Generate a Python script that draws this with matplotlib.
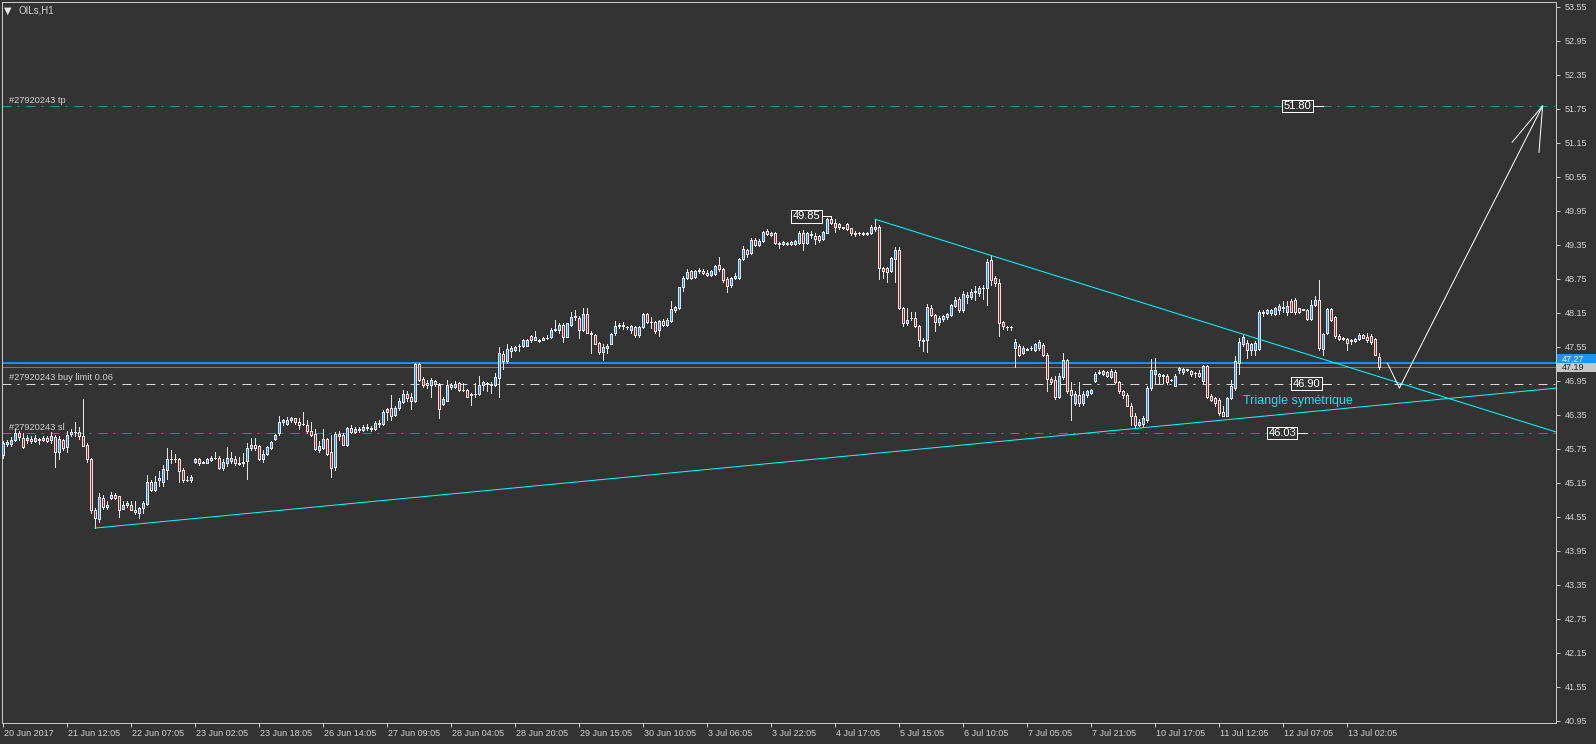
import numpy as np
import matplotlib
matplotlib.use("Agg")
import matplotlib.pyplot as plt
import matplotlib.transforms as mtransforms
from matplotlib.patches import Rectangle

plt.rcParams['font.family'] = ['Liberation Sans', 'DejaVu Sans']

# OILs H1 candles, one value per bar (bar 0 = 20 Jun 2017)
opens = [
    45.64, 45.84, 45.84, 45.90, 46.02, 45.94, 45.90, 45.92, 45.89, 45.91,
    45.91, 45.94, 45.90, 45.96, 45.69, 45.90, 45.78, 46.01, 46.04, 46.05,
    45.97, 45.82, 45.57, 44.67, 44.51, 44.88, 44.72, 44.88, 44.94, 44.91,
    44.69, 44.76, 44.76, 44.67, 44.62, 44.70, 44.78, 45.17, 45.02, 45.20,
    45.17, 45.37, 45.56, 45.57, 45.56, 45.38, 45.20, 45.19, 45.51, 45.57,
    45.50, 45.50, 45.55, 45.58, 45.59, 45.41, 45.49, 45.54, 45.56, 45.50,
    45.50, 45.53, 45.76, 45.82, 45.80, 45.56, 45.66, 45.76, 45.93, 46.02,
    46.22, 46.19, 46.26, 46.29, 46.22, 46.19, 46.17, 46.07, 46.01, 45.72,
    45.76, 45.92, 45.70, 45.43, 46.01, 46.00, 45.82, 46.12, 46.05, 46.10,
    46.08, 46.14, 46.12, 46.10, 46.20, 46.18, 46.40, 46.47, 46.35, 46.46,
    46.57, 46.72, 46.67, 46.60, 47.25, 46.98, 46.91, 46.88, 46.94, 46.88,
    46.54, 46.60, 46.88, 46.84, 46.91, 46.78, 46.78, 46.70, 46.71, 46.72,
    46.88, 46.91, 46.90, 46.88, 47.00, 47.43, 47.29, 47.48, 47.49, 47.56,
    47.57, 47.57, 47.74, 47.67, 47.67, 47.67, 47.70, 47.72, 47.84, 47.85,
    47.94, 47.73, 47.93, 48.07, 48.06, 47.84, 48.13, 47.80, 47.76, 47.62,
    47.45, 47.53, 47.60, 47.79, 47.92, 47.91, 47.90, 47.85, 47.90, 47.75,
    47.90, 48.13, 47.98, 47.98, 47.84, 48.01, 47.94, 48.00, 48.20, 48.23,
    48.60, 48.76, 48.88, 48.78, 48.88, 48.89, 48.85, 48.81, 48.84, 49.00,
    48.92, 48.75, 48.64, 48.77, 48.76, 49.10, 49.26, 49.20, 49.43, 49.35,
    49.41, 49.59, 49.52, 49.56, 49.38, 49.37, 49.38, 49.37, 49.37, 49.38,
    49.56, 49.38, 49.54, 49.51, 49.50, 49.45, 49.56, 49.80, 49.73, 49.72,
    49.66, 49.72, 49.64, 49.56, 49.55, 49.55, 49.54, 49.56, 49.63, 49.67,
    48.94, 48.94, 48.88, 49.09, 49.25, 48.23, 47.96, 48.05, 48.06, 47.92,
    47.67, 47.66, 48.23, 48.11, 47.98, 48.04, 48.07, 48.11, 48.27, 48.39,
    48.19, 48.43, 48.43, 48.51, 48.49, 48.58, 48.58, 49.08, 48.76, 48.67,
    47.98, 47.90, 47.90, 47.53, 47.56, 47.44, 47.51, 47.52, 47.50, 47.52,
    47.58, 47.41, 46.98, 46.97, 46.67, 47.02, 47.32, 46.78, 46.56, 46.70,
    46.56, 46.70, 46.73, 46.94, 47.08, 47.07, 47.11, 47.02, 47.10, 46.92,
    46.76, 46.70, 46.51, 46.33, 46.17, 46.18, 46.26, 46.82, 47.06, 47.06,
    47.05, 47.04, 46.97, 46.86, 47.14, 47.10, 47.14, 47.12, 47.08, 47.09,
    46.94, 47.21, 46.68, 46.64, 46.61, 46.39, 46.33, 46.64, 46.82, 47.27,
    47.59, 47.62, 47.50, 47.50, 47.51, 48.17, 48.14, 48.14, 48.13, 48.20,
    48.25, 48.17, 48.36, 48.38, 48.23, 48.21, 48.20, 48.04, 48.28, 48.38,
    47.51, 47.80, 48.22, 48.08, 47.74, 47.71, 47.69, 47.67, 47.65, 47.69,
    47.75, 47.73, 47.74, 47.69, 47.37,
]
highs = [
    45.88, 45.91, 45.96, 46.10, 46.07, 46.03, 46.00, 45.98, 46.00, 45.94,
    45.97, 45.97, 46.04, 46.00, 45.97, 45.92, 46.06, 46.09, 46.22, 46.14,
    46.62, 45.85, 45.59, 44.70, 44.97, 44.94, 44.82, 44.98, 44.97, 44.92,
    44.82, 44.82, 44.82, 44.82, 44.72, 44.82, 45.29, 45.20, 45.26, 45.35,
    45.47, 45.77, 45.73, 45.66, 45.59, 45.41, 45.27, 45.29, 45.59, 45.59,
    45.53, 45.59, 45.63, 45.70, 45.62, 45.56, 45.78, 45.70, 45.63, 45.60,
    45.67, 45.85, 45.94, 45.94, 45.82, 45.73, 45.79, 45.88, 46.01, 46.32,
    46.27, 46.31, 46.31, 46.30, 46.29, 46.40, 46.25, 46.23, 46.09, 45.88,
    46.09, 45.94, 46.00, 46.04, 46.06, 46.03, 46.14, 46.16, 46.14, 46.13,
    46.17, 46.18, 46.15, 46.24, 46.25, 46.43, 46.47, 46.69, 46.50, 46.64,
    46.79, 46.76, 46.73, 47.27, 47.27, 47.01, 46.97, 47.00, 46.97, 46.91,
    46.67, 46.97, 46.91, 46.94, 46.92, 46.91, 46.80, 46.74, 46.91, 47.03,
    46.94, 46.92, 46.92, 47.08, 47.54, 47.47, 47.59, 47.56, 47.57, 47.59,
    47.69, 47.69, 47.76, 47.82, 47.68, 47.72, 47.76, 47.88, 48.03, 47.97,
    47.97, 47.97, 48.17, 48.20, 48.10, 48.23, 48.23, 47.82, 47.78, 47.63,
    47.59, 47.59, 47.79, 48.01, 47.96, 47.98, 47.92, 47.93, 47.91, 47.91,
    48.14, 48.14, 48.08, 48.00, 48.03, 48.04, 48.06, 48.35, 48.27, 48.61,
    48.80, 48.92, 48.90, 48.90, 48.94, 48.93, 48.91, 48.91, 49.00, 49.13,
    48.94, 48.78, 48.78, 48.85, 49.12, 49.32, 49.27, 49.47, 49.46, 49.45,
    49.60, 49.62, 49.58, 49.58, 49.40, 49.41, 49.40, 49.42, 49.43, 49.59,
    49.61, 49.58, 49.60, 49.55, 49.52, 49.59, 49.82, 49.85, 49.80, 49.74,
    49.67, 49.74, 49.65, 49.60, 49.58, 49.57, 49.58, 49.69, 49.80, 49.69,
    48.96, 48.96, 49.13, 49.31, 49.31, 48.25, 48.23, 48.16, 48.17, 47.94,
    47.70, 48.30, 48.28, 48.13, 48.09, 48.11, 48.14, 48.31, 48.43, 48.42,
    48.54, 48.51, 48.56, 48.62, 48.62, 48.64, 49.10, 49.16, 48.79, 48.75,
    48.00, 47.92, 47.91, 47.68, 47.59, 47.57, 47.53, 47.56, 47.62, 47.66,
    47.62, 47.44, 47.01, 47.03, 47.09, 47.44, 47.33, 46.92, 46.76, 46.92,
    46.76, 46.79, 46.80, 47.11, 47.14, 47.14, 47.13, 47.15, 47.14, 46.94,
    46.79, 46.73, 46.56, 46.38, 46.27, 46.32, 46.85, 47.33, 47.35, 47.09,
    47.07, 47.06, 46.98, 47.06, 47.19, 47.17, 47.16, 47.14, 47.10, 47.14,
    47.23, 47.23, 46.72, 46.67, 46.64, 46.50, 46.67, 46.97, 47.39, 47.70,
    47.76, 47.67, 47.62, 47.65, 48.20, 48.20, 48.21, 48.22, 48.25, 48.31,
    48.35, 48.36, 48.39, 48.41, 48.24, 48.22, 48.21, 48.38, 48.44, 48.73,
    47.80, 48.24, 48.24, 48.10, 47.78, 47.73, 47.70, 47.68, 47.70, 47.79,
    47.77, 47.80, 47.77, 47.70, 47.44,
]
lows = [
    45.59, 45.79, 45.79, 45.88, 45.91, 45.76, 45.85, 45.85, 45.86, 45.84,
    45.88, 45.86, 45.85, 45.43, 45.57, 45.73, 45.69, 45.98, 45.98, 45.92,
    45.79, 45.51, 44.62, 44.35, 44.45, 44.69, 44.69, 44.86, 44.86, 44.55,
    44.68, 44.72, 44.66, 44.60, 44.53, 44.62, 44.76, 45.00, 45.00, 45.10,
    45.09, 45.22, 45.50, 45.51, 45.17, 45.17, 45.18, 45.17, 45.50, 45.47,
    45.49, 45.49, 45.53, 45.56, 45.39, 45.38, 45.45, 45.50, 45.47, 45.47,
    45.45, 45.22, 45.73, 45.73, 45.55, 45.51, 45.64, 45.75, 45.90, 46.00,
    46.17, 46.17, 46.23, 46.19, 46.09, 46.16, 46.03, 45.97, 45.73, 45.70,
    45.75, 45.64, 45.25, 45.38, 45.91, 45.82, 45.80, 46.02, 46.03, 46.05,
    46.06, 46.08, 46.06, 46.08, 46.14, 46.16, 46.26, 46.26, 46.33, 46.44,
    46.56, 46.60, 46.45, 46.57, 46.94, 46.84, 46.82, 46.67, 46.85, 46.30,
    46.53, 46.59, 46.80, 46.82, 46.76, 46.76, 46.66, 46.53, 46.66, 46.70,
    46.79, 46.76, 46.74, 46.86, 46.66, 47.16, 47.27, 47.37, 47.47, 47.47,
    47.54, 47.56, 47.63, 47.66, 47.64, 47.66, 47.68, 47.70, 47.82, 47.79,
    47.64, 47.72, 47.91, 48.03, 47.70, 47.82, 47.79, 47.44, 47.59, 47.43,
    47.32, 47.44, 47.59, 47.76, 47.88, 47.86, 47.86, 47.79, 47.73, 47.73,
    47.88, 47.96, 47.88, 47.79, 47.74, 47.92, 47.92, 47.98, 48.17, 48.21,
    48.54, 48.74, 48.74, 48.76, 48.85, 48.83, 48.79, 48.79, 48.82, 48.88,
    48.70, 48.51, 48.60, 48.74, 48.74, 49.08, 49.14, 49.18, 49.33, 49.33,
    49.39, 49.52, 49.50, 49.36, 49.30, 49.34, 49.35, 49.35, 49.35, 49.36,
    49.26, 49.36, 49.46, 49.37, 49.40, 49.43, 49.55, 49.72, 49.57, 49.62,
    49.62, 49.61, 49.53, 49.51, 49.52, 49.52, 49.52, 49.54, 49.59, 48.74,
    48.77, 48.69, 48.86, 48.70, 48.21, 47.91, 47.94, 48.03, 47.89, 47.57,
    47.47, 47.46, 48.09, 47.82, 47.93, 48.01, 48.04, 48.09, 48.25, 48.17,
    48.17, 48.33, 48.40, 48.38, 48.44, 48.40, 48.28, 48.64, 48.62, 47.74,
    47.86, 47.85, 47.85, 47.20, 47.38, 47.42, 47.49, 47.50, 47.48, 47.50,
    47.38, 46.76, 46.90, 46.63, 46.64, 46.98, 46.73, 46.26, 46.53, 46.50,
    46.53, 46.67, 46.71, 46.92, 47.06, 47.05, 47.01, 47.00, 46.91, 46.73,
    46.64, 46.50, 46.17, 46.12, 46.15, 46.14, 46.23, 46.79, 46.91, 46.91,
    46.91, 46.90, 46.94, 46.85, 47.09, 47.07, 47.12, 47.03, 47.02, 47.02,
    46.91, 46.64, 46.59, 46.50, 46.35, 46.32, 46.32, 46.62, 46.79, 47.06,
    47.56, 47.35, 47.41, 47.41, 47.49, 48.09, 48.12, 48.11, 48.11, 48.12,
    48.17, 48.11, 48.16, 48.13, 48.15, 48.19, 48.03, 48.03, 48.26, 47.50,
    47.41, 47.77, 48.00, 47.70, 47.66, 47.66, 47.50, 47.60, 47.64, 47.67,
    47.70, 47.64, 47.60, 47.40, 47.15,
]
closes = [
    45.85, 45.86, 45.91, 46.02, 45.96, 45.78, 45.94, 45.88, 45.94, 45.91,
    45.94, 45.88, 45.98, 45.69, 45.92, 45.76, 46.00, 46.05, 46.05, 45.97,
    45.80, 45.56, 44.66, 44.53, 44.90, 44.72, 44.76, 44.94, 44.88, 44.67,
    44.76, 44.79, 44.67, 44.63, 44.70, 44.79, 45.16, 45.02, 45.16, 45.23,
    45.39, 45.57, 45.57, 45.56, 45.35, 45.20, 45.19, 45.25, 45.57, 45.50,
    45.52, 45.56, 45.59, 45.59, 45.41, 45.51, 45.58, 45.59, 45.49, 45.48,
    45.52, 45.76, 45.82, 45.77, 45.57, 45.66, 45.78, 45.86, 45.99, 46.23,
    46.25, 46.26, 46.29, 46.22, 46.17, 46.18, 46.07, 45.99, 45.74, 45.80,
    45.92, 45.66, 45.41, 46.01, 45.97, 45.82, 46.12, 46.05, 46.10, 46.08,
    46.14, 46.12, 46.10, 46.20, 46.18, 46.40, 46.45, 46.32, 46.47, 46.60,
    46.72, 46.64, 46.60, 47.25, 46.97, 46.87, 46.88, 46.97, 46.89, 46.45,
    46.63, 46.88, 46.84, 46.90, 46.78, 46.78, 46.67, 46.71, 46.72, 46.88,
    46.92, 46.90, 46.88, 47.01, 47.44, 47.29, 47.51, 47.52, 47.54, 47.57,
    47.66, 47.66, 47.66, 47.73, 47.65, 47.70, 47.70, 47.85, 47.86, 47.94,
    47.73, 47.96, 48.07, 48.10, 47.85, 48.13, 47.80, 47.77, 47.60, 47.45,
    47.54, 47.56, 47.78, 47.92, 47.93, 47.93, 47.89, 47.91, 47.75, 47.90,
    48.13, 47.98, 47.99, 47.82, 48.00, 47.94, 48.03, 48.21, 48.25, 48.60,
    48.76, 48.86, 48.76, 48.88, 48.91, 48.85, 48.82, 48.88, 48.98, 48.92,
    48.73, 48.63, 48.76, 48.80, 49.10, 49.27, 49.19, 49.43, 49.35, 49.42,
    49.58, 49.54, 49.56, 49.38, 49.36, 49.39, 49.37, 49.39, 49.41, 49.56,
    49.38, 49.55, 49.52, 49.45, 49.44, 49.57, 49.80, 49.74, 49.67, 49.66,
    49.64, 49.63, 49.56, 49.54, 49.55, 49.54, 49.55, 49.67, 49.67, 48.94,
    48.88, 48.86, 49.11, 49.25, 48.23, 47.97, 48.03, 48.06, 47.91, 47.67,
    47.65, 48.25, 48.11, 47.98, 48.05, 48.09, 48.12, 48.29, 48.38, 48.20,
    48.48, 48.47, 48.51, 48.54, 48.58, 48.59, 49.05, 48.73, 48.67, 47.97,
    47.91, 47.90, 47.89, 47.63, 47.41, 47.53, 47.50, 47.53, 47.60, 47.63,
    47.41, 46.98, 46.92, 46.66, 47.03, 47.32, 46.76, 46.70, 46.72, 46.56,
    46.72, 46.76, 46.78, 47.07, 47.11, 47.12, 47.03, 47.13, 46.92, 46.76,
    46.69, 46.51, 46.33, 46.17, 46.23, 46.29, 46.82, 47.14, 47.14, 47.04,
    47.03, 46.92, 46.96, 47.03, 47.17, 47.16, 47.15, 47.06, 47.09, 47.04,
    47.21, 46.67, 46.61, 46.56, 46.38, 46.33, 46.64, 46.85, 47.29, 47.64,
    47.73, 47.50, 47.59, 47.62, 48.17, 48.15, 48.19, 48.20, 48.23, 48.26,
    48.23, 48.26, 48.17, 48.16, 48.16, 48.20, 48.04, 48.29, 48.38, 47.53,
    47.78, 48.22, 48.03, 47.74, 47.68, 47.68, 47.62, 47.65, 47.69, 47.75,
    47.71, 47.66, 47.64, 47.41, 47.20,
]

time_labels = ["20 Jun 2017", "21 Jun 12:05", "22 Jun 07:05", "23 Jun 02:05",
               "23 Jun 18:05", "26 Jun 14:05", "27 Jun 09:05", "28 Jun 04:05",
               "28 Jun 20:05", "29 Jun 15:05", "30 Jun 10:05", "3 Jul 06:05",
               "3 Jul 22:05", "4 Jul 17:05", "5 Jul 15:05", "6 Jul 10:05",
               "7 Jul 05:05", "7 Jul 21:05", "10 Jul 17:05", "11 Jul 12:05",
               "12 Jul 07:05", "13 Jul 02:05"]
BARS_PER_LABEL = 16

price_ticks = [40.95, 41.55, 42.15, 42.75, 43.35, 43.95, 44.55, 45.15, 45.75,
               46.35, 46.95, 47.55, 48.15, 48.75, 49.35, 49.95, 50.55, 51.15,
               51.75, 52.35, 52.95, 53.55]

# order levels
tp_price = 51.80
buy_limit_price = 46.90
sl_price = 46.03
blue_line_price = 47.27
bid_price = 47.19
top_price = 49.85

# trend lines: (bar, price) pairs
lower_bars, lower_prices = [23, 388.5], [44.35, 46.82]
upper_bars, upper_prices = [218, 388.5], [49.80, 46.04]

# projected path + arrow head
path_bars, path_prices = [346.1, 349.1, 384.9], [47.26, 46.82, 51.80]
head_bars, head_prices = [377.3, 384.9, 384.0], [51.16, 51.80, 50.98]

BG = '#333333'
FG = '#c8c8c8'
TEXT = '#d2d2d2'
TEAL = '#2b8f8f'
CYAN = '#00ffff'
BULL = '#1e90ff'
BEAR = '#b22222'
PX = 0.72  # one pixel in points at dpi 100

fig = plt.figure(figsize=(15.96, 7.44), dpi=100, facecolor=BG)
ax = fig.add_axes([2 / 1596, 21 / 744, 1554 / 1596, 721 / 744])
ax.set_facecolor(BG)

o = np.array(opens)
h = np.array(highs)
l = np.array(lows)
c = np.array(closes)
x = np.arange(len(o))

ax.vlines(x, l, h, colors='#e4e4e4', linewidth=PX, zorder=3, antialiased=False)
body_lo = np.minimum(o, c)
body_h = np.maximum(np.abs(c - o), 0.004)
fills = np.where(c >= o, BULL, BEAR)
ax.bar(x, body_h, bottom=body_lo, width=0.62, color=fills,
       edgecolor='#e4e4e4', linewidth=PX, zorder=4, antialiased=False)

# horizontal levels
dashdot = (0, (9, 6, 2, 7))
ax.axhline(tp_price, color=TEAL, lw=PX, ls=dashdot, zorder=2)
ax.axhline(sl_price, color=TEAL, lw=PX, ls=dashdot, zorder=2)
ax.axhline(buy_limit_price, color='#d8d8d8', lw=PX, ls=dashdot, zorder=2)
ax.axhline(blue_line_price, color=BULL, lw=1.4, zorder=2)
ax.axhline(bid_price, color='#7a7a7a', lw=PX, zorder=2)

ytr = ax.get_yaxis_transform()
lab_kw = dict(transform=ytr, fontsize=6.7, color=TEXT, ha='left', va='bottom')
ax.text(0.0045, tp_price + 0.02, '#27920243 tp', **lab_kw)
ax.text(0.0045, buy_limit_price + 0.02, '#27920243 buy limit 0.06', **lab_kw)
ax.text(0.0045, sl_price + 0.02, '#27920243 sl', **lab_kw)

# price tags on the levels
box = dict(boxstyle='square,pad=0.12', fc=BG, ec='white', lw=PX)
for bx, price, end in [(323.6, tp_price, 330), (325.9, buy_limit_price, 332),
                       (319.8, sl_price, 326), (200.9, top_price, 207)]:
    ax.plot([bx + 3.7, end], [price, price], color='white', lw=PX, zorder=5)
    ax.text(bx, price, f'{price:.2f}', fontsize=8, color='white', ha='center',
            va='center', bbox=box, zorder=6)
ax.plot([207, 207], [top_price, top_price - 0.05], color='white', lw=PX, zorder=5)

# triangle
ax.plot(lower_bars, lower_prices, color=CYAN, lw=PX, zorder=5)
ax.plot(upper_bars, upper_prices, color=CYAN, lw=PX, zorder=5)
ax.text(310, 46.60, 'Triangle symétrique', fontsize=9, color='#14e4ea',
        ha='left', va='center', zorder=6)

# projected move
ax.plot(path_bars, path_prices, color='white', lw=PX, zorder=6)
ax.plot(head_bars, head_prices, color='white', lw=PX, zorder=6)

# header
ax.text(0.0014, 0.9885, '\u25bc', transform=ax.transAxes, fontsize=7,
        color='#e8e8e8', ha='left', va='center',
        family=['DejaVu Sans'])
ax.text(0.0103, 0.9885, 'OILs,H1', transform=ax.transAxes, fontsize=7,
        color=TEXT, ha='left', va='center')

ax.set_xlim(-0.25, 388.25)
ax.set_ylim(40.910, 53.633)

# x axis
xticks = [i * BARS_PER_LABEL for i in range(len(time_labels))]
ax.set_xticks(xticks)
ax.set_xticklabels(time_labels, ha='left')
ax.tick_params(axis='x', length=3, width=PX, color=FG, labelcolor=TEXT,
               labelsize=6.5, pad=1.5)
shift = mtransforms.ScaledTranslation(1 / 100, 0, fig.dpi_scale_trans)
for lab in ax.get_xticklabels():
    lab.set_transform(lab.get_transform() + shift)

# y axis on the right
ax.yaxis.tick_right()
ax.set_yticks(price_ticks)
ax.set_yticklabels([f'{p:.2f}' for p in price_ticks])
ax.tick_params(axis='y', length=3, width=PX, color=FG, labelcolor=TEXT,
               labelsize=6.5, pad=3)

# current price tags on the scale
tag_w = 40 / 1554
tag_h = 0.155
ax.add_patch(Rectangle((1.0005, blue_line_price - tag_h / 2 + 0.07), tag_w, tag_h,
                       transform=ytr, fc=BULL, ec='none', clip_on=False, zorder=7))
ax.text(1.004, blue_line_price + 0.055, f'{blue_line_price:.2f}', transform=ytr,
        fontsize=6.5, color='white', ha='left', va='center', clip_on=False, zorder=8)
ax.add_patch(Rectangle((1.0005, bid_price - tag_h / 2), tag_w, tag_h,
                       transform=ytr, fc='#c8c8c8', ec='none', clip_on=False, zorder=9))
ax.text(1.004, bid_price, f'{bid_price:.2f}', transform=ytr, fontsize=6.5,
        color='#202020', ha='left', va='center', clip_on=False, zorder=10)

for sp in ax.spines.values():
    sp.set_color(FG)
    sp.set_linewidth(PX)

fig.savefig('out.png', dpi=100, facecolor=BG)
